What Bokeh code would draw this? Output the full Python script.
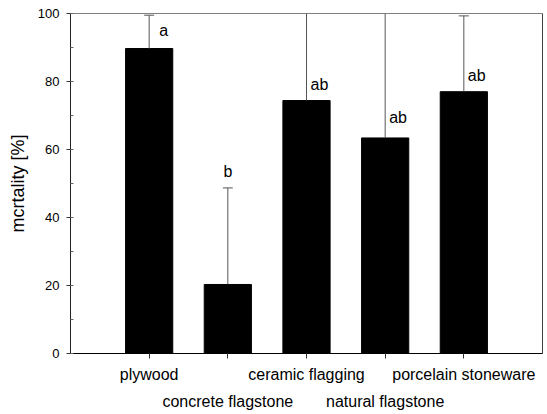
from bokeh.plotting import figure
from bokeh.models import (Range1d, FixedTicker, SingleIntervalTicker, Span,
                          ColumnDataSource, LinearAxis)
from bokeh.core.properties import value
from bokeh.embed import file_html
from bokeh.resources import INLINE

categories = ["plywood", "concrete flagstone", "ceramic flagging",
              "natural flagstone", "porcelain stoneware"]
mortality = [89.7, 20.3, 74.4, 63.4, 77.0]
error_up = [9.8, 28.4, 32.0, 42.0, 22.3]
letters = ["a", "b", "ab", "ab", "ab"]
letter_y = [95.0, 53.5, 79.0, 69.4, 81.8]

FONT = "Liberation Sans"
xpos = [i + 1 for i in range(len(categories))]
upper = [m + e for m, e in zip(mortality, error_up)]

src = ColumnDataSource(dict(x=xpos, top=mortality, upper=upper))

p = figure(width=544, height=414, output_backend="svg", toolbar_location=None,
           x_range=Range1d(0, 6), y_range=Range1d(0, 100),
           min_border_left=70, min_border_right=2, min_border_top=13,
           min_border_bottom=61)
p.xgrid.visible = False
p.ygrid.visible = False
p.background_fill_color = "white"
p.border_fill_color = "white"
p.outline_line_color = "#808080"
p.outline_line_width = 1

# bars
p.vbar(x="x", top="top", bottom=0, width=0.6, source=src,
       fill_color="black", line_color="black")

# error bars (upper only)
p.segment(x0="x", y0="top", x1="x", y1="upper", source=src,
          line_color="#555555", line_width=1)
p.dash(x="x", y="upper", size=10, source=src, line_color="#555555", line_width=1)

# significance letters
idx_left = [0, 2, 3, 4]
lsrc_left = ColumnDataSource(dict(x=[xpos[i] for i in idx_left],
                                  y=[letter_y[i] for i in idx_left],
                                  t=[letters[i] for i in idx_left],
                                  xo=[10, 4, 4, 4]))
p.text(x="x", y="y", text="t", source=lsrc_left, x_offset="xo",
       text_align="left", text_baseline="middle",
       text_font=value(FONT), text_font_size="16px", text_color="black")
lsrc_c = ColumnDataSource(dict(x=[xpos[1]], y=[letter_y[1]], t=[letters[1]]))
p.text(x="x", y="y", text="t", source=lsrc_c,
       text_align="center", text_baseline="middle",
       text_font=value(FONT), text_font_size="16px", text_color="black")

# right border
p.add_layout(Span(location=6, dimension="height", line_color="black", line_width=1))

# x axis, row 1 (odd categories)
xa = p.xaxis[0]
xa.ticker = FixedTicker(ticks=xpos)
xa.major_label_overrides = {x: (c if i % 2 == 0 else "")
                            for i, (x, c) in enumerate(zip(xpos, categories))}
xa.major_tick_out = 5
xa.major_tick_in = 0
xa.minor_tick_line_color = None
xa.axis_line_color = "black"
xa.major_tick_line_color = "#333333"
xa.major_label_text_font = FONT
xa.major_label_text_font_size = "16px"
xa.major_label_text_color = "black"
xa.major_label_standoff = 7

# x axis, row 2 (even categories)
xb = LinearAxis(ticker=FixedTicker(ticks=xpos))
xb.major_label_overrides = {x: (c if i % 2 == 1 else "")
                            for i, (x, c) in enumerate(zip(xpos, categories))}
xb.axis_line_color = None
xb.major_tick_line_color = None
xb.minor_tick_line_color = None
xb.major_tick_out = 0
xb.major_tick_in = 0
xb.major_label_text_font = FONT
xb.major_label_text_font_size = "16px"
xb.major_label_text_color = "black"
xb.major_label_standoff = 7
p.add_layout(xb, "below")

# y axis
ya = p.yaxis[0]
ya.ticker = SingleIntervalTicker(interval=20, num_minor_ticks=2)
ya.major_tick_out = 4
ya.major_tick_in = 0
ya.minor_tick_in = 3
ya.minor_tick_out = 0
ya.axis_line_color = "#222222"
ya.major_tick_line_color = "#333333"
ya.minor_tick_line_color = "#666666"
ya.major_label_text_font = FONT
ya.major_label_text_font_size = "13px"
ya.major_label_text_color = "black"
ya.major_label_standoff = 7
ya.axis_label = "mcrtality [%]"
ya.axis_label_text_font = FONT
ya.axis_label_text_font_size = "18px"
ya.axis_label_text_font_style = "normal"
ya.axis_label_text_color = "black"
ya.axis_label_standoff = 7

open("out.html", "w").write(file_html(p, INLINE))
